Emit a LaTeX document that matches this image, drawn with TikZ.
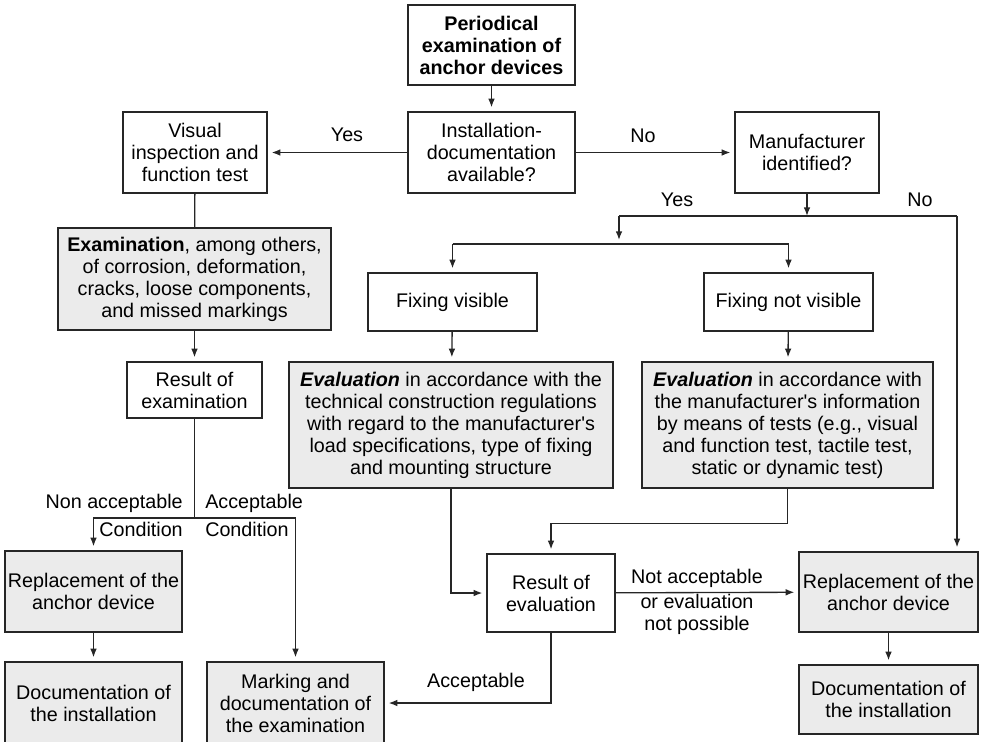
\documentclass[tikz,border=0pt]{standalone}
\usepackage{fontspec}
\setmainfont{Liberation Sans}
\usetikzlibrary{arrows.meta}

\begin{document}
\begin{tikzpicture}[x=0.75pt, y=-0.75pt,
	box/.style={draw=black!85, line width=1pt, fill=white, align=center, inner sep=0pt, font=\fontsize{14.8}{16.5}\selectfont},
	shaded/.style={box, fill=black!8},
	boxsize/.style 2 args={minimum width=#1*0.75pt, minimum height=#2*0.75pt},
	flow/.style={line width=1pt, draw=black!85, shorten >=3pt, -{Latex[length=6.5pt,width=5pt]}},
	link/.style={line width=1pt, draw=black!85},
	lbl/.style={inner sep=0pt, align=center, font=\fontsize{14.8}{16.5}\selectfont}]
	\useasboundingbox (0,0) rectangle (985,742);
	\clip (0,0) rectangle (985,742);

	% Top of the chart
	\node[box, boxsize={167}{80}, font=\fontsize{14.8}{16.5}\selectfont\bfseries] (start) at (491.5,45) {Periodical\\examination of\\anchor devices};
	\node[box, boxsize={167}{81}] (avail) at (491.5,152.5) {Installation-\\documentation\\available?};
	\node[box, boxsize={144}{81}] (visual) at (195,152.5) {Visual\\inspection and\\function test};
	\node[box, boxsize={144}{81}] (manuf) at (807,152.5) {Manufacturer\\identified?};

	% Left branch
	\node[shaded, boxsize={273}{102}] (exam) at (194.5,279) {\textbf{Examination}, among others,\\of corrosion, deformation,\\cracks, loose components,\\and missed markings};
	\node[box, boxsize={135}{56}] (resexam) at (194.5,390) {Result of\\examination};
	\node[shaded, boxsize={177}{81}] (replA) at (93.5,591.5) {Replacement of the\\anchor device};
	\node[shaded, boxsize={177}{82}] (docA) at (93.5,703) {Documentation of\\the installation};
	\node[shaded, boxsize={177}{82}] (mark) at (295.5,703) {Marking and\\documentation of\\the examination};

	% Middle and right branch
	\node[box, boxsize={169}{58}] (fixvis) at (452.5,302) {Fixing visible};
	\node[box, boxsize={169}{58}] (fixnot) at (788.5,302) {Fixing not visible};
	\node[shaded, boxsize={324}{126}] (evalA) at (451,425) {\textbf{\textit{Evaluation}} in accordance with the\\technical construction regulations\\with regard to the manufacturer\textquotesingle s\\load specifications, type of fixing\\and mounting structure};
	\node[shaded, boxsize={291}{126}] (evalB) at (787.5,425) {\textbf{\textit{Evaluation}} in accordance with\\the manufacturer\textquotesingle s information\\by means of tests (e.g., visual\\and function test, tactile test,\\static or dynamic test)};
	\node[box, boxsize={128}{78}] (reseval) at (551,593) {Result of\\evaluation};
	\node[shaded, boxsize={179}{80}] (replB) at (888.5,592) {Replacement of the\\anchor device};
	\node[shaded, boxsize={179}{69}] (docB) at (888.5,699.5) {Documentation of\\the installation};

	% Junctions
	\coordinate (yesno) at (807,216);
	\coordinate (yesL) at (619,216);
	\coordinate (noR) at (957,216);
	\coordinate (fixbar) at (619,244);
	\coordinate (fixL) at (452.5,244);
	\coordinate (fixR) at (788.5,244);
	\coordinate (cond) at (194.5,518);

	% Connectors
	\draw[flow] (start) -- (avail);
	\draw[flow] (avail) -- (visual);
	\draw[flow] (avail) -- (manuf);
	\draw[link] (visual) -- (exam);
	\draw[flow] (exam) -- (resexam);
	\draw[flow, shorten >=0pt] (manuf) -- (yesno);
	\draw[link] (yesL) -- (noR);
	\draw[flow] (yesL) -- (fixbar);
	\draw[link] (fixL) -- (fixR);
	\draw[flow] (fixL) -- (fixvis);
	\draw[flow] (fixR) -- (fixnot);
	\draw[flow] (fixvis) -- (evalA);
	\draw[flow] (fixnot) -- (evalB);
	\draw[flow] (noR) -- (noR |- replB.north);
	\draw[flow] (evalA.south) |- (reseval.west);
	\draw[flow] (evalB.south) -- ++(0,35) -| (reseval.north);
	\draw[flow] (reseval) -- (replB);
	\draw[flow] (reseval.south) |- (mark.east);
	\draw[flow] (replB) -- (docB);
	\draw[link] (resexam) -- (cond);
	\draw[flow] (cond) -| (replA.north);
	\draw[flow] (cond) -| (mark.north);
	\draw[flow] (replA) -- (docA);

	% Labels
	\node[lbl] (yesA) at (347,135) {Yes};
	\node[lbl] (noA) at (643,136) {No};
	\node[lbl] (yesB) at (677,200) {Yes};
	\node[lbl] (noB) at (920,200) {No};
	\node[lbl, anchor=east] (nonacc) at (183,503) {Non acceptable};
	\node[lbl, anchor=east] (condA) at (183,529) {Condition};
	\node[lbl, anchor=west] (acc) at (205,503) {Acceptable};
	\node[lbl, anchor=west] (condB) at (205,529) {Condition};
	\node[lbl] (notacc) at (697,578) {Not acceptable};
	\node[lbl] (noteval) at (697,614.5) {or evaluation\\not possible};
	\node[lbl] (accB) at (476,682) {Acceptable};
\end{tikzpicture}
\end{document}
